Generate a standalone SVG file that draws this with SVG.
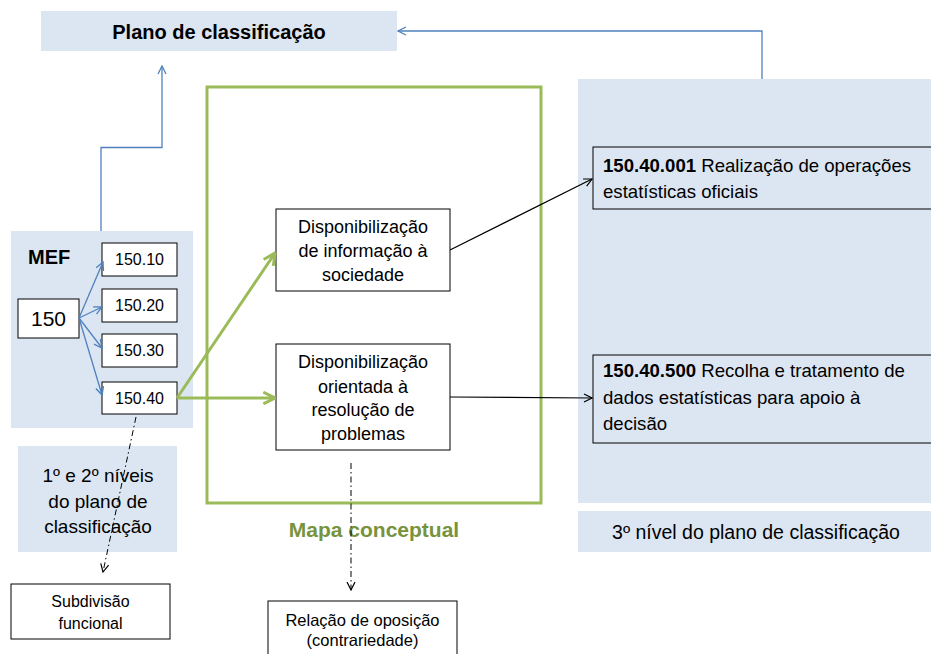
<svg xmlns="http://www.w3.org/2000/svg" width="931" height="654" viewBox="0 0 931 654">
<style>
text{font-family:"Liberation Sans",Arial,sans-serif;fill:#000}
.panel{fill:#DCE6F2}
.box{fill:#fff;stroke:#000;stroke-width:1}
.tbox{fill:none;stroke:#000;stroke-width:1}
.blue{fill:none;stroke:#4F81BD;stroke-width:1.3}
.green{fill:none;stroke:#9BBB59;stroke-width:3}
.black{fill:none;stroke:#000;stroke-width:1.2}
.dash{fill:none;stroke:#000;stroke-width:1;stroke-dasharray:6,3,1.5,3}
.c{text-anchor:middle}
</style>
<defs>
<marker id="ab" viewBox="0 0 10 10" refX="9" refY="5" markerWidth="10" markerHeight="10" markerUnits="userSpaceOnUse" orient="auto"><path d="M1,1 L9,5 L1,9" fill="none" stroke="#4F81BD" stroke-width="1.3"/></marker>
<marker id="ag" viewBox="0 0 12 12" refX="11" refY="6" markerWidth="14" markerHeight="14" markerUnits="userSpaceOnUse" orient="auto"><path d="M1,1 L11,6 L1,11" fill="none" stroke="#9BBB59" stroke-width="2.5"/></marker>
<marker id="ak" viewBox="0 0 10 10" refX="9" refY="5" markerWidth="10" markerHeight="10" markerUnits="userSpaceOnUse" orient="auto"><path d="M1,1 L9,5 L1,9" fill="none" stroke="#000" stroke-width="1.2"/></marker>
</defs>

<g id="plano">
<rect class="panel" x="41" y="11" width="356" height="40"/>
<text class="c" x="219" y="39" font-size="20" font-weight="bold">Plano de classificação</text>
</g>

<g id="terceiro-nivel">
<rect class="panel" x="578" y="79" width="360" height="424"/>
</g>
<g id="terceiro-nivel-label">
<rect class="panel" x="578" y="511" width="360" height="41"/>
<text class="c" x="756" y="539" font-size="19.5">3º nível do plano de classificação</text>
</g>

<g id="n150-40-001">
<rect class="tbox" x="593" y="147" width="345" height="62"/>
<text x="603" y="172" font-size="18.6"><tspan font-weight="bold">150.40.001</tspan> Realização de operações</text>
<text x="603" y="198" font-size="18.6">estatísticas oficiais</text>
</g>

<g id="n150-40-500">
<rect class="tbox" x="593" y="355" width="345" height="88"/>
<text x="603" y="377" font-size="18.6"><tspan font-weight="bold">150.40.500</tspan> Recolha e tratamento de</text>
<text x="603" y="404" font-size="18.6">dados estatísticas para apoio à</text>
<text x="603" y="430" font-size="18.6">decisão</text>
</g>

<g id="mapa">
<rect class="green" x="207" y="87" width="334" height="416"/>
<text class="c" x="374" y="537" font-size="21" font-weight="bold" style="fill:#77933C">Mapa conceptual</text>
</g>

<g id="disp1">
<rect class="box" x="276" y="209" width="174" height="82"/>
<text class="c" x="363" y="233" font-size="18">Disponibilização</text>
<text class="c" x="363" y="257" font-size="18">de informação à</text>
<text class="c" x="363" y="281" font-size="18">sociedade</text>
</g>

<g id="disp2">
<rect class="box" x="276" y="344" width="174" height="106"/>
<text class="c" x="363" y="368" font-size="18">Disponibilização</text>
<text class="c" x="363" y="393" font-size="18">orientada à</text>
<text class="c" x="363" y="416" font-size="18">resolução de</text>
<text class="c" x="363" y="440" font-size="18">problemas</text>
</g>

<g id="mef">
<rect class="panel" x="11" y="231" width="182" height="197"/>
<text x="28" y="264" font-size="20" font-weight="bold">MEF</text>
</g>

<g id="n150">
<rect class="box" x="18" y="299" width="61" height="39"/>
<text class="c" x="48.5" y="326" font-size="21">150</text>
</g>
<g id="n150-10">
<rect class="box" x="102" y="243" width="75" height="33"/>
<text class="c" x="139.5" y="265" font-size="16">150.10</text>
</g>
<g id="n150-20">
<rect class="box" x="102" y="289" width="75" height="33"/>
<text class="c" x="139.5" y="311" font-size="16">150.20</text>
</g>
<g id="n150-30">
<rect class="box" x="102" y="334" width="75" height="33"/>
<text class="c" x="139.5" y="356" font-size="16">150.30</text>
</g>
<g id="n150-40">
<rect class="box" x="102" y="382" width="75" height="32"/>
<text class="c" x="139.5" y="404" font-size="16">150.40</text>
</g>

<g id="niveis">
<rect class="panel" x="18" y="446" width="159" height="106"/>
<text class="c" x="98" y="482" font-size="19">1º e 2º níveis</text>
<text class="c" x="98" y="508" font-size="19">do plano de</text>
<text class="c" x="98" y="533" font-size="19">classificação</text>
</g>

<g id="subdivisao">
<rect class="box" x="11" y="584" width="159" height="55"/>
<text class="c" x="90.5" y="607" font-size="16">Subdivisão</text>
<text class="c" x="90.5" y="629" font-size="16">funcional</text>
</g>

<g id="relacao">
<rect class="box" x="268" y="601" width="189" height="60"/>
<text class="c" x="362.5" y="626" font-size="16.5">Relação de oposição</text>
<text class="c" x="362.5" y="646" font-size="16.5">(contrariedade)</text>
</g>

<g id="connectors">
<path class="blue" d="M101,231 V147.5 H162 V66" marker-end="url(#ab)"/>
<path class="blue" d="M762,79 V31 H398" marker-end="url(#ab)"/>
<path class="blue" d="M79,318 L103,262" marker-end="url(#ab)"/>
<path class="blue" d="M79,318 L102,307" marker-end="url(#ab)"/>
<path class="blue" d="M79,318 L102,348" marker-end="url(#ab)"/>
<path class="blue" d="M79,318 L102,395" marker-end="url(#ab)"/>
<path class="green" d="M177,398 L275,253" marker-end="url(#ag)"/>
<path class="green" d="M177,398 L275,398" marker-end="url(#ag)"/>
<path class="black" d="M450,250 L592,179" marker-end="url(#ak)"/>
<path class="black" d="M450,397 L592,398" marker-end="url(#ak)"/>
<path class="dash" d="M136,417 L103,572" marker-end="url(#ak)"/>
<path class="dash" d="M351,463 V590" marker-end="url(#ak)"/>
</g>
</svg>
